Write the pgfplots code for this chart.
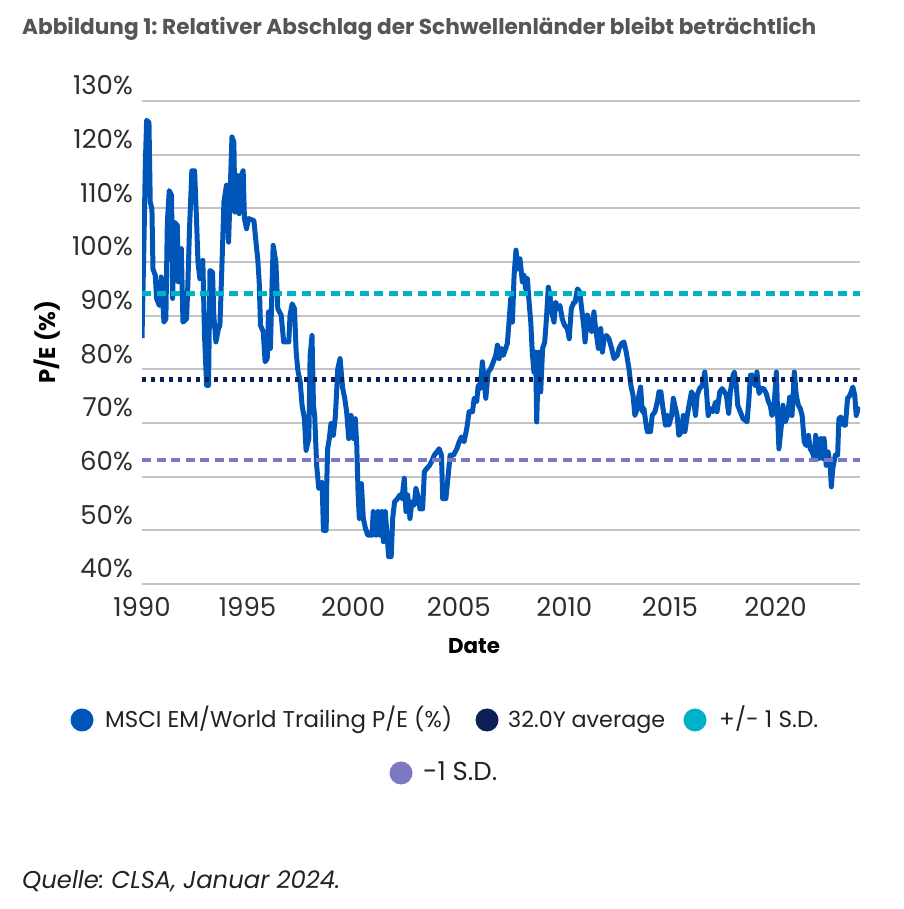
\documentclass[border=0pt]{standalone}
\usepackage{pgfplots}
\usepackage{pgfplotstable}
\pgfplotsset{compat=1.18}
\usepackage{fontspec}
\setmainfont{Poppins}
\frenchspacing
\definecolor{serblue}{RGB}{0,86,184}
\definecolor{gridgrey}{RGB}{196,196,196}
\definecolor{sdcyan}{RGB}{0,178,200}
\definecolor{avgnavy}{RGB}{13,31,84}
\definecolor{sdpurple}{RGB}{123,120,196}
\definecolor{titlegrey}{RGB}{85,85,85}
\definecolor{txt}{RGB}{34,34,34}
\definecolor{ticktxt}{RGB}{45,45,45}
\pgfplotstableread{
year val
1990.00 85.8
1990.09 103.1
1990.16 118.6
1990.22 126.4
1990.33 126.0
1990.39 111.2
1990.47 109.9
1990.52 98.7
1990.63 97.5
1990.69 93.2
1990.82 91.9
1990.91 97.2
1991.04 88.8
1991.13 89.4
1991.20 107.4
1991.29 113.3
1991.40 112.4
1991.45 93.2
1991.54 107.4
1991.67 106.8
1991.72 96.3
1991.86 102.5
1991.94 88.8
1992.11 89.4
1992.17 95.6
1992.25 106.2
1992.36 117.0
1992.49 117.0
1992.58 108.1
1992.65 100.0
1992.74 96.9
1992.88 100.3
1992.96 86.3
1993.06 77.0
1993.15 77.0
1993.22 98.4
1993.34 98.1
1993.40 90.1
1993.50 85.1
1993.62 87.6
1993.69 88.2
1993.78 98.7
1993.88 111.2
1994.00 114.3
1994.10 103.7
1994.19 114.9
1994.26 123.3
1994.35 122.3
1994.40 109.3
1994.51 116.1
1994.60 109.0
1994.70 116.1
1994.79 117.0
1994.85 108.1
1994.95 106.2
1995.04 108.1
1995.30 107.7
1995.39 104.0
1995.48 100.6
1995.55 96.3
1995.61 88.2
1995.74 87.0
1995.83 81.4
1995.93 82.0
1995.99 90.7
1996.08 83.9
1996.21 103.1
1996.34 100.0
1996.43 91.3
1996.59 90.1
1996.71 85.1
1996.75 85.1
1996.95 85.1
1997.01 90.1
1997.11 92.2
1997.22 91.3
1997.30 83.2
1997.38 79.8
1997.49 77.7
1997.58 73.3
1997.69 70.8
1997.77 64.9
1997.90 67.1
1997.96 82.4
1998.05 86.3
1998.12 73.3
1998.18 71.1
1998.27 62.1
1998.37 57.8
1998.53 59.0
1998.59 50.0
1998.72 50.0
1998.75 59.0
1998.79 65.2
1998.87 67.1
1998.95 69.9
1999.06 67.7
1999.16 71.4
1999.27 80.1
1999.38 82.0
1999.50 76.5
1999.60 74.6
1999.69 72.1
1999.79 67.1
1999.90 71.4
2000.01 67.1
2000.10 70.8
2000.17 65.8
2000.23 57.2
2000.29 52.2
2000.39 58.7
2000.48 52.2
2000.58 50.4
2000.69 49.1
2000.89 49.1
2000.95 53.5
2001.08 49.1
2001.17 53.5
2001.27 49.1
2001.36 53.5
2001.43 47.9
2001.52 53.5
2001.68 45.1
2001.80 45.1
2001.87 52.2
2001.96 55.3
2002.10 55.9
2002.21 56.6
2002.31 55.9
2002.42 59.7
2002.50 53.5
2002.58 56.6
2002.69 52.2
2002.78 55.3
2002.89 54.7
2002.97 57.8
2003.10 55.9
2003.16 54.0
2003.29 54.0
2003.37 60.9
2003.48 61.5
2003.60 62.0
2003.71 62.8
2003.84 64.0
2003.96 64.6
2004.07 65.2
2004.18 64.0
2004.24 55.9
2004.39 55.9
2004.50 60.3
2004.59 64.0
2004.75 64.0
2004.91 65.2
2005.02 66.5
2005.13 67.4
2005.25 66.5
2005.38 69.0
2005.49 72.1
2005.65 72.1
2005.73 74.6
2005.85 74.0
2005.92 77.0
2006.01 76.4
2006.12 81.4
2006.20 77.7
2006.28 74.6
2006.39 79.5
2006.51 80.1
2006.64 81.4
2006.75 82.6
2006.83 84.5
2006.91 82.0
2007.02 83.9
2007.11 82.6
2007.22 83.9
2007.30 84.8
2007.38 88.8
2007.46 93.2
2007.54 88.8
2007.62 97.5
2007.71 102.2
2007.81 98.7
2007.90 100.6
2008.01 96.3
2008.09 97.5
2008.17 95.0
2008.25 96.9
2008.33 92.5
2008.41 88.8
2008.48 83.2
2008.56 79.5
2008.64 83.2
2008.69 70.2
2008.78 83.2
2008.88 75.8
2008.97 83.9
2009.07 85.1
2009.15 89.4
2009.24 95.3
2009.32 93.8
2009.40 90.7
2009.51 88.8
2009.59 92.5
2009.70 91.3
2009.79 91.9
2009.90 89.4
2010.01 88.2
2010.14 87.6
2010.23 85.7
2010.33 91.3
2010.45 92.5
2010.51 92.5
2010.62 95.0
2010.73 94.4
2010.82 91.3
2010.93 87.6
2010.98 85.1
2011.09 90.1
2011.20 88.2
2011.29 87.0
2011.40 90.7
2011.48 87.6
2011.61 83.9
2011.72 87.6
2011.80 83.2
2011.88 85.7
2011.99 86.3
2012.11 85.7
2012.24 83.9
2012.35 82.0
2012.51 82.6
2012.59 83.9
2012.71 84.8
2012.82 85.1
2012.93 83.2
2013.06 80.1
2013.15 77.0
2013.25 75.2
2013.34 71.4
2013.45 72.7
2013.53 75.2
2013.61 76.7
2013.69 72.1
2013.77 72.7
2013.85 70.2
2013.93 68.4
2014.08 68.4
2014.16 71.4
2014.29 72.1
2014.40 73.9
2014.48 75.8
2014.57 75.8
2014.67 72.7
2014.79 69.6
2014.87 71.4
2014.95 69.6
2015.08 71.4
2015.16 74.6
2015.23 73.3
2015.34 71.4
2015.42 67.7
2015.55 68.4
2015.63 71.4
2015.71 68.4
2015.82 71.4
2015.93 73.9
2016.02 75.8
2016.10 75.2
2016.21 71.4
2016.29 75.2
2016.40 76.4
2016.53 77.0
2016.65 79.5
2016.72 76.4
2016.81 71.4
2016.92 72.7
2017.03 72.1
2017.16 73.9
2017.23 72.1
2017.36 75.8
2017.47 76.4
2017.58 75.8
2017.67 75.2
2017.78 71.8
2017.86 75.8
2017.99 78.9
2018.05 79.5
2018.14 77.0
2018.21 73.3
2018.33 72.1
2018.46 70.8
2018.57 70.5
2018.65 70.2
2018.73 73.9
2018.81 78.9
2018.93 78.9
2019.04 77.0
2019.12 79.5
2019.22 75.5
2019.31 76.4
2019.44 76.4
2019.56 75.5
2019.67 73.9
2019.75 73.3
2019.83 71.4
2019.91 72.1
2020.04 79.5
2020.10 71.4
2020.16 65.2
2020.26 68.9
2020.35 73.3
2020.46 70.2
2020.57 71.4
2020.67 74.8
2020.78 71.4
2020.89 79.5
2020.98 75.2
2021.08 73.3
2021.17 72.7
2021.26 71.4
2021.36 66.5
2021.45 65.8
2021.56 67.7
2021.64 65.2
2021.74 64.6
2021.83 63.4
2021.90 67.7
2021.99 65.8
2022.05 63.4
2022.15 67.1
2022.24 63.4
2022.30 67.1
2022.40 62.1
2022.49 64.6
2022.59 62.1
2022.64 58.1
2022.71 61.5
2022.83 64.0
2022.94 64.0
2023.00 70.8
2023.09 71.1
2023.22 69.6
2023.31 69.6
2023.41 74.6
2023.53 75.2
2023.66 76.7
2023.75 75.2
2023.82 71.4
2023.91 72.7
2023.97 73.0
}\petable
\begin{document}
\begin{tikzpicture}[x=1pt,y=1pt]
\useasboundingbox (0,0) rectangle (903,909);
% title
\node[anchor=base west, inner sep=0pt, text=titlegrey] at (22,874) {\resizebox{794pt}{!}{\bfseries Abbildung 1: Relativer Abschlag der Schwellenländer bleibt beträchtlich}};
\begin{axis}[
  at={(142pt,325pt)}, anchor=south west,
  scale only axis, width=718pt, height=483pt,
  xmin=1990, xmax=2024, ymin=40, ymax=130,
  axis line style={draw=none},
  major tick length=0pt,
  ymajorgrids, grid style={color=gridgrey, line width=1.8pt},
  ytick={40,50,...,130},
  yticklabels={40\%,50\%,60\%,70\%,80\%,90\%,100\%,110\%,120\%,130\%},
  xtick={1990,1995,2000,2005,2010,2015,2020},
  xticklabels={1990,1995,2000,2005,2010,2015,2020},
  yticklabel style={font=\fontsize{26}{26}\selectfont, text=ticktxt, anchor=east, inner sep=0pt, xshift=-9pt, yshift=15.5pt},
  xticklabel style={font=\fontsize{26}{26}\selectfont, text=ticktxt, anchor=north, inner sep=0pt, yshift=-13.5pt},
]
\addplot[serblue, line width=5pt, line join=round] table[x=year, y=val] {\petable};
\addplot[sdcyan, line width=4.4pt, dash pattern=on 9pt off 5.5pt] coordinates {(1990,94.1) (2024,94.1)};
\addplot[avgnavy, line width=4.4pt, dash pattern=on 4.4pt off 4.6pt] coordinates {(1990,78.1) (2024,78.1)};
\addplot[sdpurple, line width=4.4pt, dash pattern=on 9pt off 5.5pt] coordinates {(1990,63.1) (2024,63.1)};
\end{axis}
% axis labels
\node[inner sep=0pt, text=black] at (47,567) {\rotatebox{90}{\resizebox{83pt}{!}{\bfseries P/E (\%)}}};
\node[inner sep=0pt, text=black] at (474,263) {\resizebox{52pt}{!}{\bfseries Date}};
% legend
\fill[serblue] (82,189) circle (11.5);
\node[anchor=base west, inner sep=0pt, text=txt] at (105,181) {\resizebox{347pt}{!}{MSCI EM/World Trailing P/E (\%)}};
\fill[avgnavy] (487,189) circle (11.5);
\node[anchor=base west, inner sep=0pt, text=txt] at (508,181) {\resizebox{157pt}{!}{32.0Y average}};
\fill[sdcyan] (695,189) circle (11.5);
\node[anchor=base west, inner sep=0pt, text=txt] at (719,181) {\resizebox{99pt}{!}{+/- 1 S.D.}};
\fill[sdpurple] (401,136) circle (11.5);
\node[anchor=base west, inner sep=0pt, text=txt] at (423,128) {\resizebox{74pt}{!}{-1 S.D.}};
% source
\node[anchor=base west, inner sep=0pt, text=txt] at (22,20) {\resizebox{318pt}{!}{\itshape Quelle: CLSA, Januar 2024.}};
\end{tikzpicture}
\end{document}
